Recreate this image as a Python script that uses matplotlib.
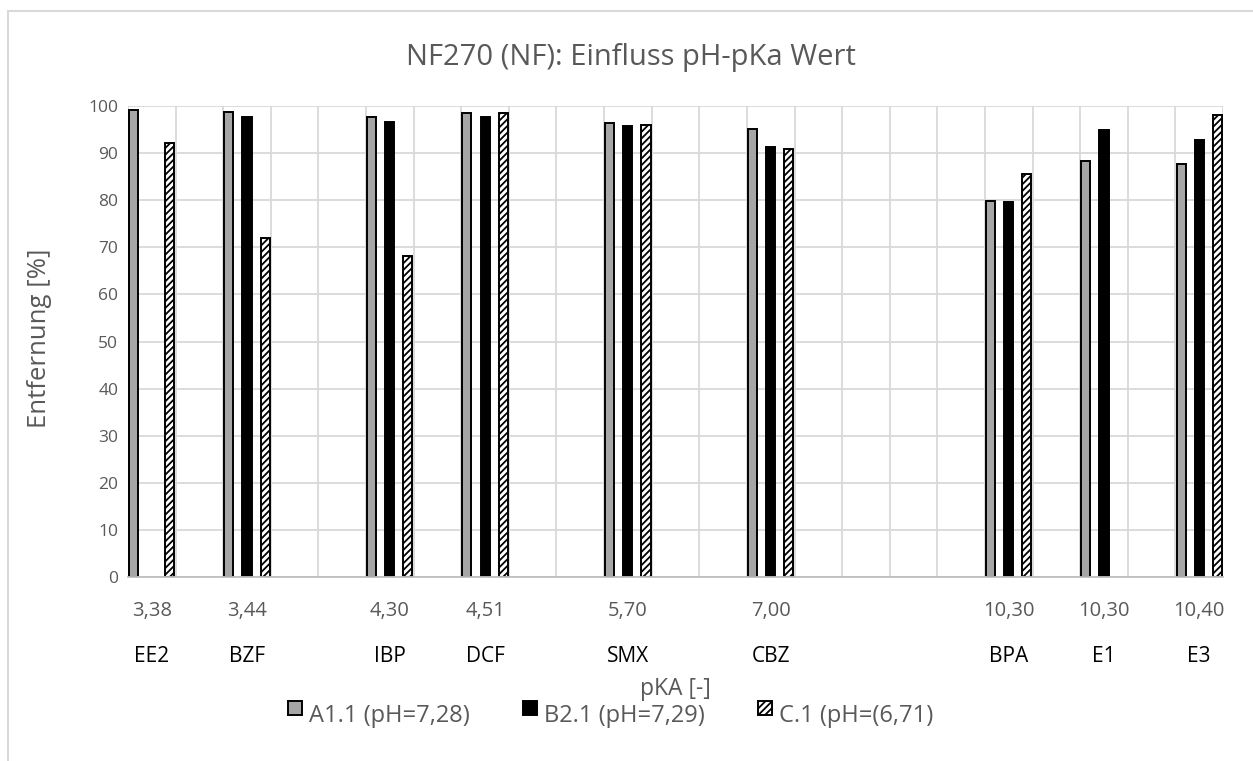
import numpy as np
import matplotlib
matplotlib.use("Agg")
import matplotlib.pyplot as plt
from matplotlib.patches import Patch, Rectangle
from matplotlib.legend_handler import HandlerPatch
from matplotlib import transforms

# --- data -------------------------------------------------------------
compounds = ["EE2", "BZF", "IBP", "DCF", "SMX", "CBZ", "BPA", "E1", "E3"]
pka_labels = ["3,38", "3,44", "4,30", "4,51", "5,70", "7,00", "10,30", "10,30", "10,40"]

# category axis of the sheet, blank rows included
category_names = ["EE2", "", "BZF", "", "", "IBP", "", "DCF", "", "", "SMX", "", "",
                  "CBZ", "", "", "", "", "BPA", "", "E1", "", "E3"]

a11 = [99.2, 98.7, 97.7, 98.5, 96.3, 95.2, 79.9, 88.3, 87.7]
b21 = [np.nan, 97.7, 96.6, 97.7, 95.8, 91.4, 79.7, 94.8, 92.7]
c1 = [92.2, 71.9, 68.1, 98.5, 95.9, 90.9, 85.5, np.nan, 98.0]

series_labels = ["A1.1 (pH=7,28)", "B2.1 (pH=7,29)", "C.1 (pH=(6,71)"]
title = "NF270 (NF): Einfluss pH-pKa Wert"
ylabel = "Entfernung [%]"
xlabel = "pKA [-]"

# --- style ------------------------------------------------------------
plt.rcParams["font.family"] = ["Open Sans", "DejaVu Sans"]
plt.rcParams["hatch.linewidth"] = 1.3
plt.rcParams["hatch.color"] = "black"
GRID = "#D9D9D9"
TXT = "#595959"

W, H = 1253, 761
fig = plt.figure(figsize=(W / 100, H / 100), dpi=100)
ax = fig.add_axes([128 / W, 1 - 577 / H, (1223 - 128) / W, (577 - 106) / H])

n_cat = len(category_names)
idx = np.array([category_names.index(c) for c in compounds]) + 0.5

bw = 0.19
off = 0.38
ax.bar(idx - off, a11, bw, color="#A6A6A6", edgecolor="black", linewidth=1.4, zorder=3)
ax.bar(idx, b21, bw, color="black", edgecolor="black", linewidth=1.4, zorder=3)
ax.bar(idx + off, c1, bw, color="white", edgecolor="black", linewidth=1.4,
       hatch="/////", zorder=3)

ax.set_xlim(0, n_cat)
ax.set_ylim(0, 100)
ax.set_yticks(np.arange(0, 101, 10))
ax.set_xticks(idx)
ax.set_xticklabels(pka_labels)
ax.set_xticks(np.arange(0, n_cat + 1), minor=True)

ax.grid(axis="y", which="major", color=GRID, linewidth=1.3, zorder=0)
ax.grid(axis="x", which="minor", color=GRID, linewidth=1.3, zorder=0)
ax.grid(axis="x", which="major", visible=False)
ax.tick_params(axis="both", which="both", length=0)
ax.tick_params(axis="y", labelsize=12.5, labelcolor=TXT, pad=7)
ax.tick_params(axis="x", labelsize=14.5, labelcolor=TXT, pad=17)
for s in ["top", "right", "left"]:
    ax.spines[s].set_visible(False)
ax.spines["bottom"].set_color("#BFBFBF")
ax.spines["bottom"].set_linewidth(1.3)
ax.spines["bottom"].set_zorder(4)

# compound names as second level of the category axis
trans = transforms.blended_transform_factory(ax.transData, fig.transFigure)
for x, name in zip(idx, compounds):
    ax.text(x, 1 - 657 / H, name, transform=trans, ha="center", va="center",
            fontsize=15, color="black")

fig.text(675 / W, 1 - 689 / H, xlabel, ha="center", va="center", fontsize=16.5, color=TXT)
fig.text(40 / W, 1 - 338 / H, ylabel, ha="center", va="center", rotation=90,
         fontsize=18.5, color=TXT)
fig.text(631 / W, 1 - 58 / H, title, ha="center", va="center", fontsize=21, color=TXT)


def raised_square(legend, orig_handle, xdescent, ydescent, width, height, fontsize):
    # small square key sitting above the text baseline
    s = height * 0.85
    return Rectangle((-xdescent + (width - s) / 2, -ydescent + height * 0.45), s, s)


handles = [
    Patch(facecolor="#A6A6A6", edgecolor="black", linewidth=1.4),
    Patch(facecolor="black", edgecolor="black", linewidth=1.4),
    Patch(facecolor="white", edgecolor="black", linewidth=1.4, hatch="/////"),
]
fig.legend(handles, series_labels, loc="center", bbox_to_anchor=(0.487, 1 - 716 / H),
           ncol=3, frameon=False, fontsize=17, handlelength=0.7, handleheight=0.7,
           handletextpad=0.25, columnspacing=2.2, labelcolor=TXT,
           handler_map={Patch: HandlerPatch(patch_func=raised_square)})

# chart area border
fig.patches.append(Rectangle((8 / W, -0.1), 1.2, 1 - 11 / H + 0.1, transform=fig.transFigure,
                             fill=False, edgecolor=GRID, linewidth=1.5))

fig.savefig("out.png", dpi=100)
